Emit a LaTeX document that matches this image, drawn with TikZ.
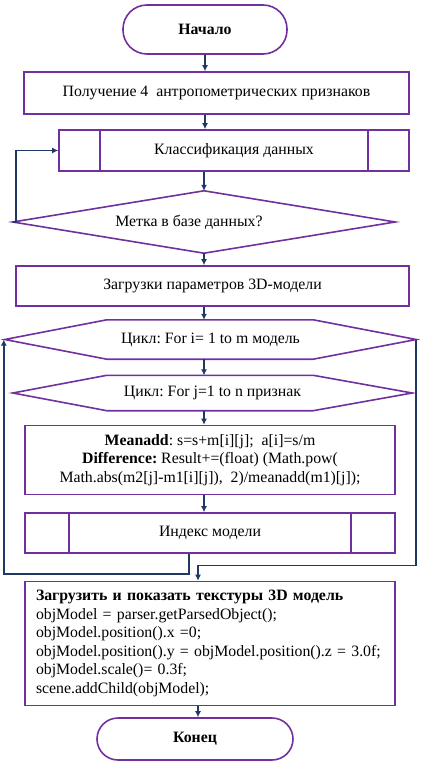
\documentclass[tikz,border=0pt]{standalone}
\usepackage{fontspec}
\setmainfont{Liberation Serif}
\frenchspacing
\usepackage{tikz}
\usetikzlibrary{calc,arrows.meta}
\definecolor{frameviolet}{HTML}{7030A0}
\definecolor{flownavy}{HTML}{1F3864}
\tikzset{
	blk/.style={draw=frameviolet, line width=1.6pt, inner sep=0pt, font=\fontsize{15.8}{18.5}\selectfont},
	term/.style={blk, rounded corners=#1},
	bare/.style={inner sep=0pt, font=\fontsize{15.8}{18.5}\selectfont},
	flow/.style={draw=flownavy, line width=1.5pt, -{Latex[length=6pt,width=6pt]}},
}
\def\loopshape(#1)(#2:#3){\draw[draw=frameviolet, line width=1.6pt] (#1.west) -- ($(#1.north west)+(#2,0)$) -- ($(#1.north east)+(-#3,0)$) -- (#1.east) -- ($(#1.south east)+(-#3,0)$) -- ($(#1.south west)+(#2,0)$) -- cycle;}
\def\rhomb(#1){\draw[draw=frameviolet, line width=1.6pt] (#1.west) -- (#1.north) -- (#1.east) -- (#1.south) -- cycle;}
\def\subbars(#1)(#2){\draw[draw=frameviolet, line width=1.6pt] ($(#1.north west)+(#2,0)$) -- ($(#1.south west)+(#2,0)$) ($(#1.north east)+(-#2,0)$) -- ($(#1.south east)+(-#2,0)$);}
\begin{document}
\begin{tikzpicture}[x=1pt, y=-1pt]
			%%%%% START %%%%%
			\useasboundingbox (0,0) rectangle (423,770);
			
			\node[term=24pt, minimum width=164pt, minimum height=49pt] (start) at (205,29.5) {\textbf{Начало}};
			\node[blk, minimum width=385pt, minimum height=42pt] (recv) at (216.5,93) {Получение 4\ \ антропометрических признаков};
			\node[blk, minimum width=350pt, minimum height=41pt] (cls) at (234,150.5) {Классификация данных};
			\subbars(cls)(42);
			\node[bare, minimum width=382pt, minimum height=62pt] (mark) at (204,222) {\hspace*{-30pt}Метка в базе данных?};
			\rhomb(mark);
			\node[blk, minimum width=393pt, minimum height=40pt] (load) at (212.5,286) {Загрузки параметров 3D-модели};
			
			\node[bare, minimum width=411pt, minimum height=39pt] (loopi) at (210.5,339.5) {Цикл: For i= 1 to m модель};
			\loopshape(loopi)(102:103);
			\node[bare, minimum width=399pt, minimum height=35pt] (loopj) at (212.5,393) {Цикл: For j=1 to n признак};
			\loopshape(loopj)(94:99);
			
			\node[blk, minimum width=370pt, minimum height=69pt, align=center] (calc) at (210,460) {\textbf{Meanadd}: s=s+m[i][j];\ \ a[i]=s/m\\\textbf{Difference:} Result+=(float) (Math.pow(\\Math.abs(m2[j]-m1[i][j]),\ \ 2)/meanadd(m1)[j]);};
			\node[blk, minimum width=370pt, minimum height=40pt] (idx) at (210,533) {Индекс модели};
			\subbars(idx)(45);
			\node[blk, minimum width=370pt, minimum height=124pt, text width=348pt, inner xsep=11pt, align=left] (show) at (210,643.5) {\textbf{Загрузить и показать текстуры 3D модель}\\objModel = parser.getParsedObject();\\objModel.position().x =0;\\objModel.position().y = objModel.position().z = 3.0f;\\objModel.scale()= 0.3f;\\scene.addChild(objModel);};
			\node[term=21pt, minimum width=196pt, minimum height=42pt] (stop) at (195,739) {\textbf{Конец}};
			
			\coordinate (back) at (16,150.5);
			\coordinate (enter) at ($(show.north)+(-12,0)$);
			
			\draw[flow] (start.south) -- (start.south |- recv.north);
			\draw[flow] (recv.south -| start) -- (cls.north -| start);
			\draw[flow] (cls.south -| mark) -- (mark.north);
			\draw[flow] (mark.west) -- (mark.west -| back) -- (back) -- (cls.west);
			\draw[flow] (mark.south) -- (load.north -| mark);
			\draw[flow] (load.south -| mark) -- (loopi.north -| mark);
			\draw[flow] (loopi.south -| mark) -- (loopj.north -| mark);
			\draw[flow] (loopj.south -| mark) -- (calc.north -| mark);
			\draw[flow] (calc.south -| mark) -- (idx.north -| mark);
			\draw[flow] ($(idx.south)+(-21,0)$) -- ++(0,20) -| ($(loopi.west)+(-1,0)$);
			\draw[flow] (loopi.east) |- ($(enter)+(0,-15)$) -- (enter);
			\draw[flow] (show.south -| enter) -- (stop.north -| enter);
			
			%%%%% END %%%%%
		\end{tikzpicture}
\end{document}
